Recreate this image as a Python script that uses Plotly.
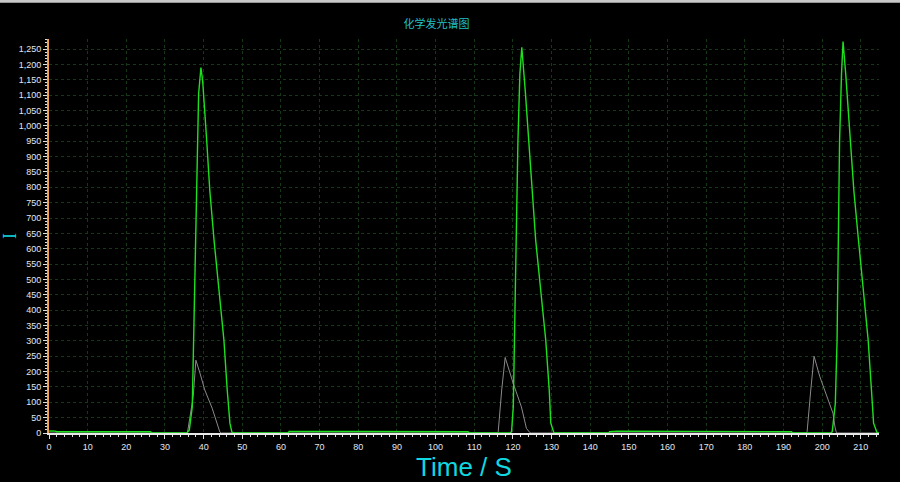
import plotly.graph_objects as go

# main chemiluminescence signal (green)
time_green = [
    0, 0.4, 1.6, 2.0, 26.3, 26.5, 35.7,
    36.3, 37.06, 37.4, 37.75, 38.2, 38.7, 39.3, 39.75, 40.8, 41.6, 42.7,
    44.0, 45.25, 46.1, 46.8, 47.3, 47.8,
    61.9, 62.1, 80.0, 108.4, 108.6,
    119.2, 119.65, 120.1, 120.4, 120.8, 121.3, 121.8, 122.3, 123.2, 124.05,
    125.0, 125.9, 127.2, 128.5, 129.4, 129.8, 130.6, 131.0,
    144.8, 145.0, 147.0, 162.0, 163.0, 192.1, 192.3,
    202.2, 202.6, 203.4, 203.85, 204.2, 204.5, 205.0, 205.4, 206.1, 207.3,
    208.2, 209.4, 210.7, 211.9, 212.75, 213.3, 214.2, 214.7,
]
intensity_green = [
    6, 7, 6, 4, 4, 0, 0,
    10, 85, 300, 540, 845, 1104, 1190, 1146, 951, 789, 627,
    464, 302, 140, 32, 3, 0,
    0, 5, 5, 4, 0,
    0, 4, 85, 302, 627, 951, 1168, 1256, 1114, 951,
    789, 627, 464, 302, 140, 32, 1, 0,
    0, 4, 6, 6, 4, 4, 0,
    0, 4, 96, 302, 627, 951, 1168, 1275, 1168, 951,
    789, 627, 464, 302, 140, 32, 1, 0,
]

# reference signal (gray)
time_gray = [
    0, 35.8, 37.3, 38.0, 39.05, 40.3, 42.2, 43.4, 44.2, 44.6,
    116.0, 116.2, 117.1, 118.0, 120.1, 122.2, 123.5, 124.4, 124.8,
    195.9, 196.1, 197.05, 197.9, 199.4, 201.5, 202.8, 203.3, 203.7, 214.7,
]
intensity_gray = [
    0, 0, 118, 237, 195, 140, 81, 32, 3, 0,
    0, 4, 140, 246, 161, 85, 15, 1, 0,
    0, 4, 140, 250, 183, 107, 64, 20, 0, 0,
]

TITLE = "化学发光谱图"
X_TITLE = "Time / S"
Y_TITLE = "I"

CYAN = "#10d8e0"
GRID = "#163816"
TICK_FONT = dict(family="Liberation Sans", size=9, color="#e2e6f0")

fig = go.Figure()
fig.add_trace(
    go.Scatter(
        x=time_gray, y=intensity_gray, mode="lines",
        line=dict(color="#8a8a8a", width=1), showlegend=False,
    )
)
fig.add_trace(
    go.Scatter(
        x=time_green, y=intensity_green, mode="lines",
        line=dict(color="#1ee01e", width=1.4), showlegend=False,
    )
)

fig.update_layout(
    width=900,
    height=482,
    paper_bgcolor="#000000",
    plot_bgcolor="#000000",
    margin=dict(l=49, r=21, t=39, b=49),
    title=dict(
        text=TITLE, x=0.485, xanchor="center", y=0.95, yanchor="middle",
        font=dict(family="Noto Sans CJK SC", size=11, color="#20c0c8"),
    ),
    shapes=[
        dict(type="rect", xref="paper", yref="paper", x0=-0.06, x1=1.03,
             y0=1.092, y1=1.1, fillcolor="#c8c8c8", line_width=0, layer="above"),
    ],
)
fig.update_xaxes(
    range=[0, 214.7],
    dtick=10, tick0=0,
    showline=True, linecolor="#e8e8e8", linewidth=2,
    zeroline=False,
    ticks="outside", ticklen=4, tickcolor="#e0e0e0", tickwidth=1,
    tickfont=TICK_FONT,
    showgrid=True, gridcolor=GRID, griddash="3px,3px", gridwidth=1,
    minor=dict(dtick=2, ticks="outside", ticklen=2, tickcolor="#e0e0e0", showgrid=False),
    title=dict(text=X_TITLE, standoff=4,
               font=dict(family="Liberation Sans", size=26, color=CYAN)),
    automargin=False,
)
fig.update_yaxes(
    range=[0, 1283],
    dtick=50, tick0=0, tickformat=",d",
    showline=True, linecolor="#f0a050", linewidth=2,
    zeroline=False,
    ticks="outside", ticklen=4, tickcolor="#e0e0e0", tickwidth=1,
    tickfont=TICK_FONT,
    showgrid=True, gridcolor=GRID, griddash="3px,3px", gridwidth=1,
    minor=dict(dtick=10, ticks="outside", ticklen=2, tickcolor="#e0e0e0", showgrid=False),
    title=dict(text=Y_TITLE, standoff=0,
               font=dict(family="Liberation Serif", size=18, color=CYAN)),
    automargin=False,
)

fig.write_html(
    "out.html",
    config={"displayModeBar": False},
    post_script="document.body.style.margin='0';document.body.style.background='#000';",
)
